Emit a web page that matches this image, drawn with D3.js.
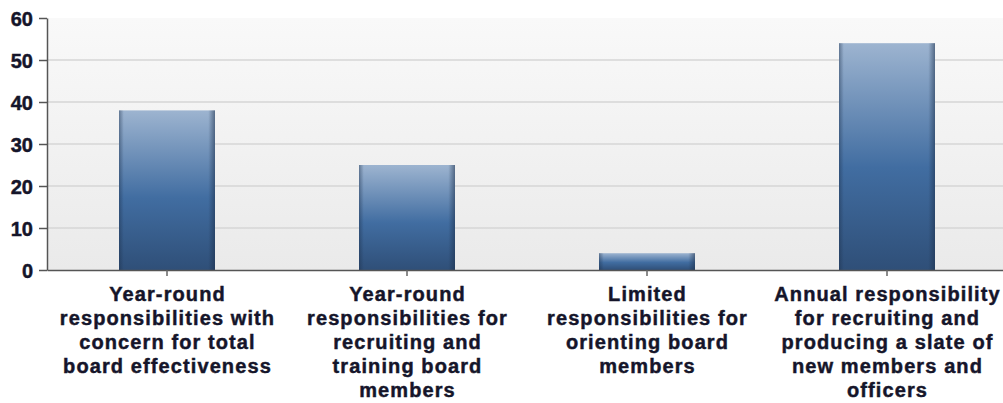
<!DOCTYPE html>
<html>
<head>
<meta charset="utf-8">
<script src="https://cdn.jsdelivr.net/npm/d3@7"></script>
<style>
  html, body { margin: 0; padding: 0; background: #fff; }
  svg { display: block; }
  text { font-family: "Liberation Sans", Arial, sans-serif; font-weight: bold; fill: #15152a; stroke: #15152a; stroke-width: 0.45px; }
</style>
</head>
<body>
<svg id="chart" width="1003" height="403"></svg>
<script>
const categories = [
  "Year-round responsibilities with concern for total board effectiveness",
  "Year-round responsibilities for recruiting and training board members",
  "Limited responsibilities for orienting board members",
  "Annual responsibility for recruiting and producing a slate of new members and officers"
];
const labelLines = [
  ["Year-round", "responsibilities with", "concern for total", "board effectiveness"],
  ["Year-round", "responsibilities for", "recruiting and", "training board", "members"],
  ["Limited", "responsibilities for", "orienting board", "members"],
  ["Annual responsibility", "for recruiting and", "producing a slate of", "new members and", "officers"]
];
const values = [38, 25, 4, 54];
const yTicks = [0, 10, 20, 30, 40, 50, 60];

(function () {
const svg = d3.select("#chart");
const W = 1003;
const mLeft = 47, mTop = 18, mBottom = 270, rightRange = 1007;

const x = d3.scaleBand().domain(categories).range([mLeft, rightRange]).padding(0);
const y = d3.scaleLinear().domain([0, 60]).range([mBottom, mTop]);

const defs = svg.append("defs");
const bg = defs.append("linearGradient").attr("id", "bg").attr("x1", 0).attr("y1", 0).attr("x2", 0).attr("y2", 1);
bg.append("stop").attr("offset", "0%").attr("stop-color", "#f9f9f9");
bg.append("stop").attr("offset", "100%").attr("stop-color", "#eaeaea");

const bar = defs.append("linearGradient").attr("id", "bar").attr("x1", 0).attr("y1", 0).attr("x2", 0).attr("y2", 1);
bar.append("stop").attr("offset", "0%").attr("stop-color", "#9db4d0");
bar.append("stop").attr("offset", "55%").attr("stop-color", "#416da1");
bar.append("stop").attr("offset", "100%").attr("stop-color", "#2f4f78");

const edge = defs.append("linearGradient").attr("id", "edge").attr("x1", 0).attr("y1", 0).attr("x2", 1).attr("y2", 0);
edge.append("stop").attr("offset", "0%").attr("stop-color", "#1c2f4a").attr("stop-opacity", 0.45);
edge.append("stop").attr("offset", "5%").attr("stop-color", "#1c2f4a").attr("stop-opacity", 0);
edge.append("stop").attr("offset", "93%").attr("stop-color", "#1c2f4a").attr("stop-opacity", 0);
edge.append("stop").attr("offset", "100%").attr("stop-color", "#1c2f4a").attr("stop-opacity", 0.55);

// plot background
svg.append("rect").attr("x", mLeft).attr("y", mTop).attr("width", W - mLeft).attr("height", mBottom - mTop).attr("fill", "url(#bg)");

// gridlines
svg.append("g").selectAll("line").data(yTicks.filter(d => d > 0 && d < 60)).join("line")
  .attr("x1", mLeft).attr("x2", W).attr("y1", d => y(d)).attr("y2", d => y(d))
  .attr("stroke", "#d6d6d6").attr("stroke-width", 1.5);

// bars
const bw = x.bandwidth() * 0.4;
const bars = svg.append("g").selectAll("g").data(values).join("g");
bars.append("rect")
  .attr("x", (d, i) => x(categories[i]) + x.bandwidth() / 2 - bw / 2)
  .attr("y", d => y(d)).attr("width", bw).attr("height", d => y(0) - y(d))
  .attr("fill", "url(#bar)");
bars.append("rect")
  .attr("x", (d, i) => x(categories[i]) + x.bandwidth() / 2 - bw / 2)
  .attr("y", d => y(d)).attr("width", bw).attr("height", d => y(0) - y(d))
  .attr("fill", "url(#edge)");

// y axis
const yAxis = svg.append("g").attr("transform", `translate(${mLeft},0)`)
  .call(d3.axisLeft(y).tickValues(yTicks).tickSize(8).tickPadding(6).tickSizeOuter(0));
yAxis.select(".domain").attr("stroke", "#555").attr("stroke-width", 1.5);
yAxis.selectAll(".tick line").attr("stroke", "#555").attr("stroke-width", 1.5);
yAxis.selectAll(".tick text").style("font-size", "20px").attr("dy", "0.36em").attr("fill", "#15152a");

// x axis
const xAxis = svg.append("g").attr("transform", `translate(0,${mBottom})`)
  .call(d3.axisBottom(x).tickSize(6).tickSizeOuter(0).tickFormat(""));
xAxis.select(".domain").attr("stroke", "#555").attr("stroke-width", 1.5);
xAxis.selectAll(".tick line").attr("stroke", "#666").attr("stroke-width", 1.5);

// category labels
const lab = svg.append("g").selectAll("text").data(categories).join("text")
  .attr("text-anchor", "middle")
  .style("font-size", "20px").style("letter-spacing", "1.1px");
lab.each(function(c, i) {
  const t = d3.select(this);
  const cx = x(c) + x.bandwidth() / 2;
  labelLines[i].forEach((ln, j) => {
    t.append("tspan").attr("x", cx + 0.5).attr("y", 301 + j * 24).text(ln);
  });
});
})();
</script>
</body>
</html>
